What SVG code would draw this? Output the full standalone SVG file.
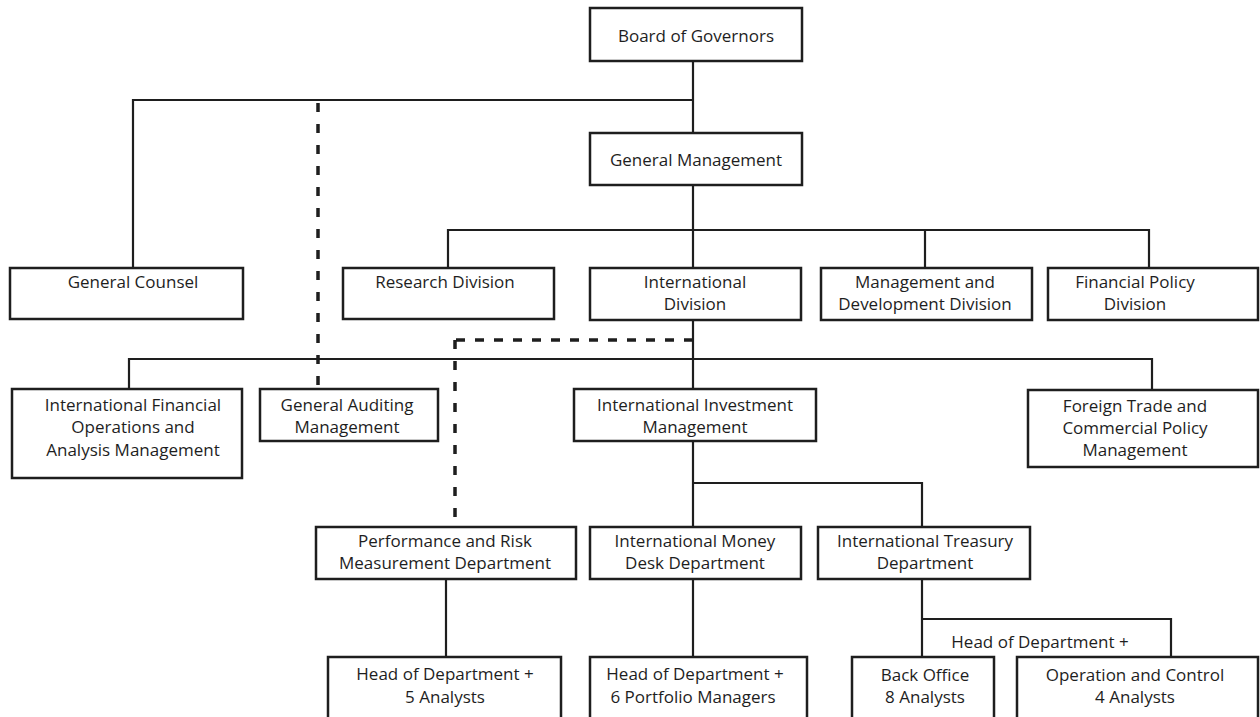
<svg xmlns="http://www.w3.org/2000/svg" width="1260" height="717" viewBox="0 0 1260 717">
  <style>
    .box { fill: #ffffff; stroke: #1e1e1e; stroke-width: 2.5; }
    .lbl { font-family: "Open Sans", "Noto Sans", sans-serif; font-size: 17px; fill: #1e1e1e; text-anchor: middle; }
    .ln { fill: none; stroke: #1e1e1e; stroke-width: 2.2; }
    .dash { fill: none; stroke: #1e1e1e; stroke-width: 3.5; stroke-dasharray: 9 12; }
    .dashh { fill: none; stroke: #1e1e1e; stroke-width: 3.5; stroke-dasharray: 9 10; }
  </style>
  <rect width="1260" height="717" fill="#ffffff"/>

  <!-- connectors -->
  <g id="connectors">
    <path class="ln" d="M693 61 V133 M693 100 H133 V268"/>
    <path class="ln" d="M693 185 V268 M448 268 V230 H1149 V268 M925 230 V268"/>
    <path class="ln" d="M693 320 V389 M129 389 V359 H1152 V390"/>
    <path class="ln" d="M693 441 V527 M693 483 H922 V527"/>
    <path class="ln" d="M446 579 V657 M693 579 V657 M922 579 V657 M922 619 H1171 V657"/>
    <path class="dash" d="M318 103 V389"/>
    <path class="dashh" d="M693 340 H455"/>
    <path class="dash" d="M455 340 V522"/>
  </g>

  <g id="board">
    <rect class="box" x="590" y="8" width="212" height="53"/>
    <text class="lbl" x="696" y="42">Board of Governors</text>
  </g>
  <g id="general-management">
    <rect class="box" x="590" y="133" width="212" height="52"/>
    <text class="lbl" x="696" y="166">General Management</text>
  </g>

  <g id="general-counsel">
    <rect class="box" x="10" y="268" width="233" height="51"/>
    <text class="lbl" x="133" y="288">General Counsel</text>
  </g>
  <g id="research-division">
    <rect class="box" x="343" y="268" width="211" height="51"/>
    <text class="lbl" x="445" y="288">Research Division</text>
  </g>
  <g id="international-division">
    <rect class="box" x="590" y="268" width="211" height="52"/>
    <text class="lbl" x="695" y="288">International</text>
    <text class="lbl" x="695" y="310">Division</text>
  </g>
  <g id="management-development">
    <rect class="box" x="821" y="268" width="211" height="52"/>
    <text class="lbl" x="925" y="288">Management and</text>
    <text class="lbl" x="925" y="310">Development Division</text>
  </g>
  <g id="financial-policy">
    <rect class="box" x="1048" y="268" width="210" height="52"/>
    <text class="lbl" x="1135" y="288">Financial Policy</text>
    <text class="lbl" x="1135" y="310">Division</text>
  </g>

  <g id="intl-financial-operations">
    <rect class="box" x="12" y="389" width="230" height="89"/>
    <text class="lbl" x="133" y="411">International Financial</text>
    <text class="lbl" x="133" y="433">Operations and</text>
    <text class="lbl" x="133" y="456">Analysis Management</text>
  </g>
  <g id="general-auditing">
    <rect class="box" x="260" y="389" width="178" height="52"/>
    <text class="lbl" x="347" y="411">General Auditing</text>
    <text class="lbl" x="347" y="433">Management</text>
  </g>
  <g id="intl-investment">
    <rect class="box" x="574" y="389" width="242" height="52"/>
    <text class="lbl" x="695" y="411">International Investment</text>
    <text class="lbl" x="695" y="433">Management</text>
  </g>
  <g id="foreign-trade">
    <rect class="box" x="1028" y="390" width="230" height="77"/>
    <text class="lbl" x="1135" y="412">Foreign Trade and</text>
    <text class="lbl" x="1135" y="434">Commercial Policy</text>
    <text class="lbl" x="1135" y="456">Management</text>
  </g>

  <g id="performance-risk">
    <rect class="box" x="316" y="527" width="260" height="52"/>
    <text class="lbl" x="445" y="547">Performance and Risk</text>
    <text class="lbl" x="445" y="569">Measurement Department</text>
  </g>
  <g id="money-desk">
    <rect class="box" x="590" y="527" width="211" height="52"/>
    <text class="lbl" x="695" y="547">International Money</text>
    <text class="lbl" x="695" y="569">Desk Department</text>
  </g>
  <g id="treasury">
    <rect class="box" x="818" y="527" width="212" height="52"/>
    <text class="lbl" x="925" y="547">International Treasury</text>
    <text class="lbl" x="925" y="569">Department</text>
  </g>

  <g id="treasury-head-label">
    <text class="lbl" x="1040" y="648">Head of Department +</text>
  </g>

  <g id="risk-staff">
    <rect class="box" x="328" y="657" width="233" height="62"/>
    <text class="lbl" x="445" y="680">Head of Department +</text>
    <text class="lbl" x="445" y="703">5 Analysts</text>
  </g>
  <g id="money-desk-staff">
    <rect class="box" x="590" y="657" width="217" height="62"/>
    <text class="lbl" x="695" y="680">Head of Department +</text>
    <text class="lbl" x="693" y="703">6 Portfolio Managers</text>
  </g>
  <g id="back-office">
    <rect class="box" x="852" y="657" width="142" height="62"/>
    <text class="lbl" x="925" y="681">Back Office</text>
    <text class="lbl" x="925" y="703">8 Analysts</text>
  </g>
  <g id="operation-control">
    <rect class="box" x="1017" y="657" width="241" height="62"/>
    <text class="lbl" x="1135" y="681">Operation and Control</text>
    <text class="lbl" x="1135" y="703">4 Analysts</text>
  </g>
</svg>
